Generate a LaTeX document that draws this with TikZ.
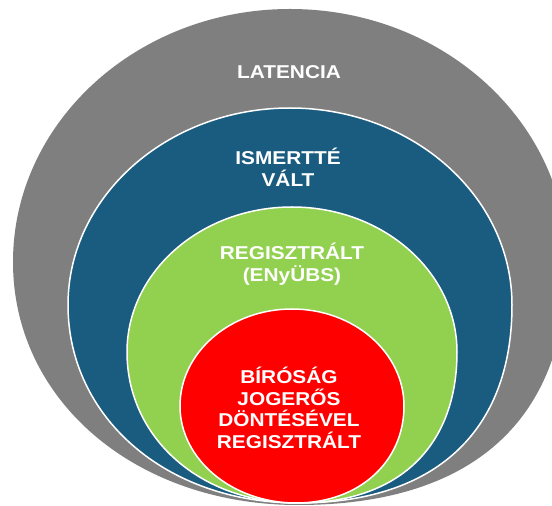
\documentclass[tikz,border=0pt]{standalone}
\usepackage{fontspec}
\newfontfamily\labfont[FakeStretch=1.12]{Liberation Sans}
\definecolor{cgray}{HTML}{7F7F7F}
\definecolor{cblue}{HTML}{1A5C80}
\definecolor{cgreen}{HTML}{92D050}
\definecolor{cred}{HTML}{FF0000}
\tikzset{
  ring/.style={draw=white, line width=1.5pt},
  lab/.style={text=white, font=\labfont\bfseries\fontsize{18.6}{22}\selectfont, align=center, inner sep=0pt}
}
% #1 cx, #2 widest y (from top), #3 rx, #4 top y, #5 bottom y, #6 bottom x, #7 lower-left k, #8 lower-right k, #9 style
\newcommand\eggshape[9]{%
  \pgfmathsetmacro\eL{#1-#3}\pgfmathsetmacro\eR{#1+#3}%
  \pgfmathsetmacro\eT{506-#4}\pgfmathsetmacro\eB{506-#5}\pgfmathsetmacro\eC{506-#2}%
  \pgfmathsetmacro\kux{0.552*#3}\pgfmathsetmacro\kuy{0.552*(#2-#4)}%
  \pgfmathsetmacro\klx{#7*(#6-#1+#3)}\pgfmathsetmacro\kly{#7*(#5-#2)}%
  \pgfmathsetmacro\krx{#8*(#1+#3-#6)}\pgfmathsetmacro\kry{#8*(#5-#2)}%
  \path[#9] (#1,\eT) .. controls ({#1-\kux},\eT) and (\eL,{\eC+\kuy}) .. (\eL,\eC)
    .. controls (\eL,{\eC-\kly}) and ({#6-\klx},\eB) .. (#6,\eB)
    .. controls ({#6+\krx},\eB) and (\eR,{\eC-\kry}) .. (\eR,\eC)
    .. controls (\eR,{\eC+\kuy}) and ({#1+\kux},\eT) .. cycle;%
}
\begin{document}
\begin{tikzpicture}[x=1pt,y=1pt]
\useasboundingbox (0,0) rectangle (552,506);
\fill[white] (0,0) rectangle (552,506);
\eggshape{290}{262}{277}{9}{505}{298}{0.57}{0.65}{fill=cgray}
\eggshape{290}{305}{222}{108}{503}{298}{0.57}{0.64}{fill=cblue, ring}
\eggshape{292}{352}{165}{207}{503}{298}{0.57}{0.63}{fill=cgreen, ring}
\eggshape{292}{406}{112}{309}{503}{296}{0.55}{0.58}{fill=cred, ring}
\node[lab] (lat) at (289,434) {LATENCIA};
\node[lab] (ism) at (288,339) {ISMERTTÉ\\VÁLT};
\node[lab] (reg) at (292,242) {REGISZTRÁLT\\(ENyÜBS)};
\node[lab, font=\labfont\bfseries\fontsize{18.6}{21.5}\selectfont] (bir) at (289,98) {BÍRÓSÁG\\JOGERŐS\\DÖNTÉSÉVEL\\REGISZTRÁLT};
\end{tikzpicture}
\end{document}
